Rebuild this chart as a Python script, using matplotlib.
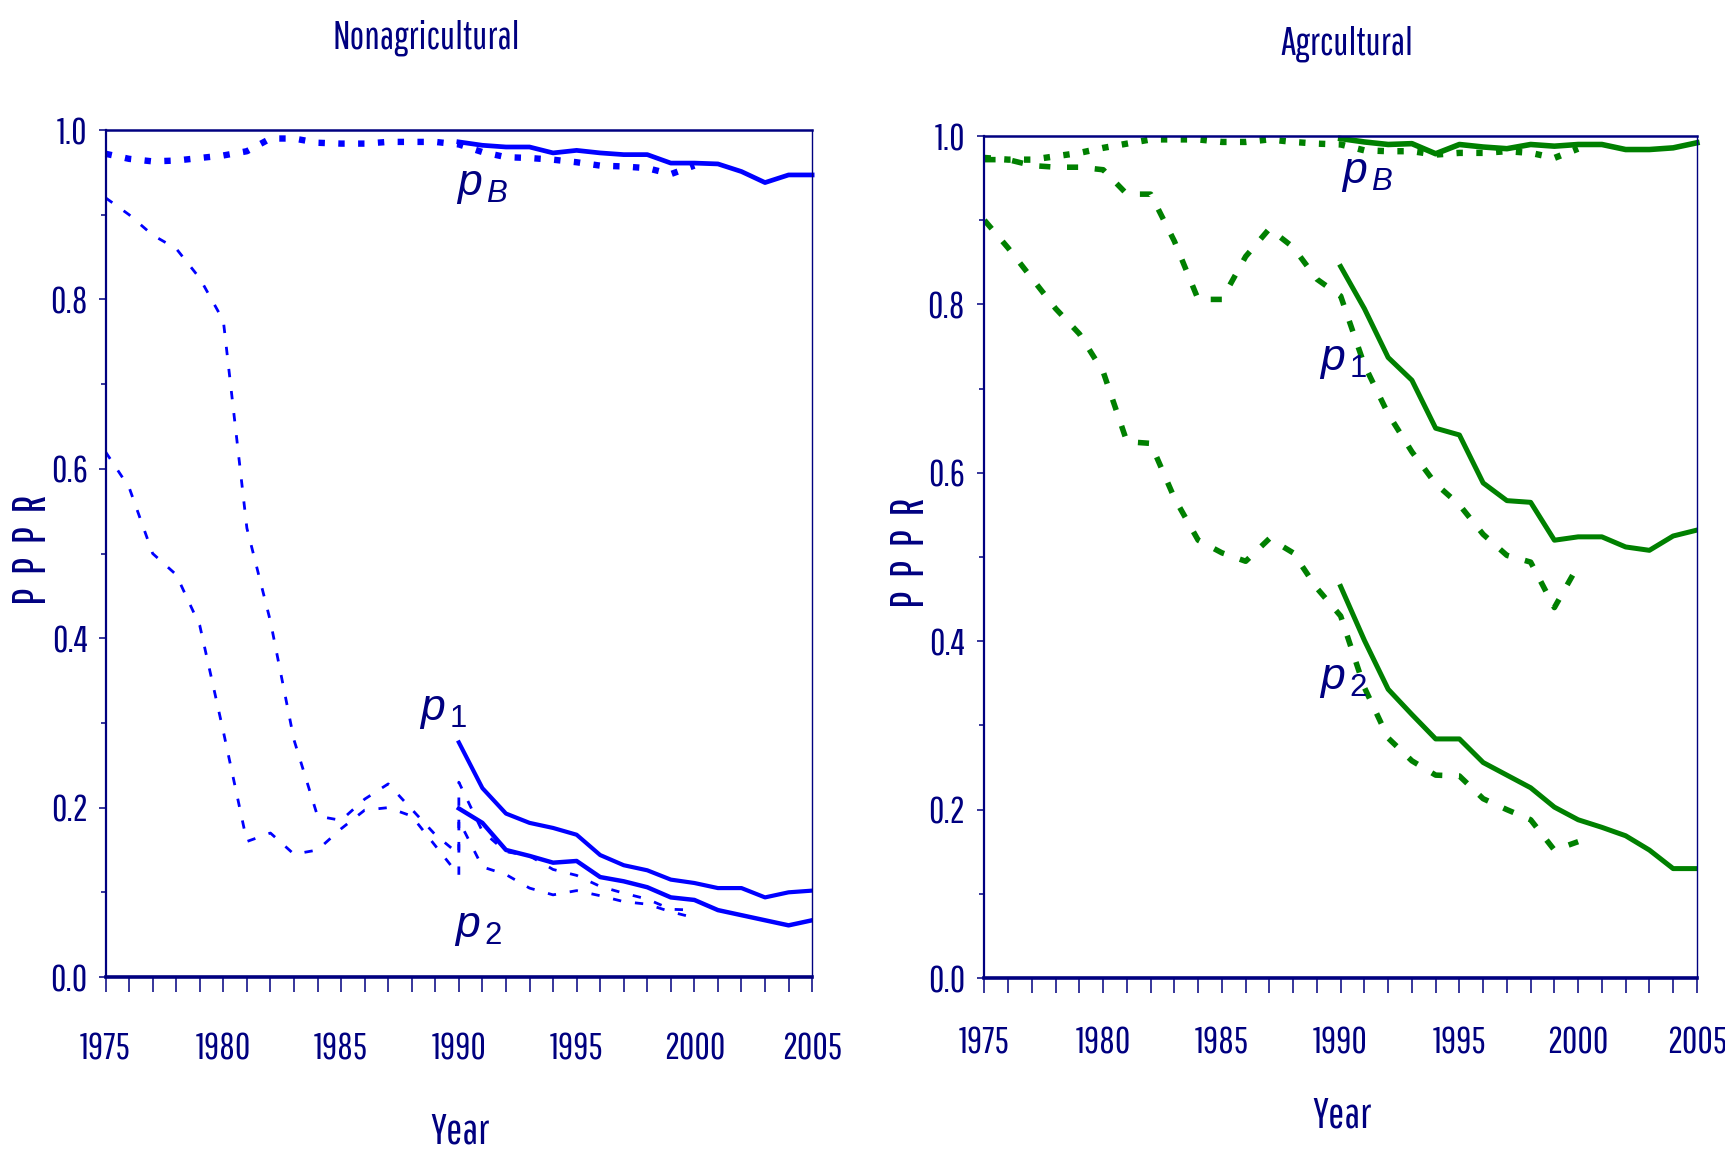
import matplotlib
matplotlib.use('Agg')
import matplotlib.pyplot as plt
from matplotlib.ticker import MultipleLocator, FormatStrFormatter
import numpy as np

# 窄体字：按顺序取第一个已安装的
plt.rcParams['font.family'] = ['Pathway Gothic One', 'Sofia Sans Extra Condensed',
                               'Roboto Condensed', 'Liberation Sans', 'DejaVu Sans']
plt.rcParams['mathtext.fontset'] = 'custom'
plt.rcParams['mathtext.it'] = 'Liberation Sans:italic'
plt.rcParams['mathtext.rm'] = 'Liberation Sans'

NAVY = '#000080'
BLUE = '#0000FF'
GREEN = '#008000'

# === 数据===
years_dot = np.arange(1975, 2001)
years_sol = np.arange(1990, 2006)
years_early = np.arange(1975, 1991)
years_late = np.arange(1990, 2001)

# Nonagricultural
nonag_pB_dot = [0.972, 0.966, 0.963, 0.964, 0.967, 0.970, 0.975, 0.990, 0.990, 0.985,
                0.984, 0.984, 0.986, 0.986, 0.986, 0.983, 0.974, 0.968, 0.967, 0.965,
                0.962, 0.958, 0.957, 0.955, 0.948, 0.958]
nonag_pB_sol = [0.986, 0.982, 0.980, 0.980, 0.973, 0.976, 0.973, 0.971, 0.971, 0.961,
                0.961, 0.960, 0.951, 0.938, 0.947, 0.947]
nonag_p1_sol = [0.277, 0.223, 0.193, 0.182, 0.176, 0.168, 0.144, 0.132, 0.126, 0.115,
                0.111, 0.105, 0.105, 0.094, 0.100, 0.102]
nonag_p2_sol = [0.199, 0.182, 0.150, 0.143, 0.135, 0.137, 0.118, 0.113, 0.106, 0.094,
                0.091, 0.079, 0.073, 0.067, 0.061, 0.067]
nonag_p1_early = [0.920, 0.900, 0.876, 0.860, 0.825, 0.775, 0.530, 0.420, 0.280, 0.190,
                  0.185, 0.210, 0.228, 0.198, 0.168, 0.145]
nonag_p1_late = [0.230, 0.172, 0.148, 0.143, 0.127, 0.120, 0.107, 0.099, 0.092, 0.080, 0.079]
nonag_p2_early = [0.620, 0.578, 0.500, 0.475, 0.415, 0.290, 0.160, 0.170, 0.145, 0.150,
                  0.175, 0.197, 0.200, 0.190, 0.155, 0.120]
nonag_p2_late = [0.185, 0.130, 0.121, 0.105, 0.097, 0.102, 0.096, 0.089, 0.086, 0.077, 0.070]

# Agrcultural
ag_pB_dot = [0.974, 0.972, 0.972, 0.976, 0.980, 0.986, 0.991, 0.996, 0.996, 0.996,
             0.993, 0.993, 0.996, 0.993, 0.991, 0.990, 0.983, 0.982, 0.982, 0.978,
             0.980, 0.980, 0.982, 0.980, 0.974, 0.985]
ag_pB_sol = [0.997, 0.993, 0.990, 0.991, 0.979, 0.990, 0.987, 0.985, 0.990, 0.988,
             0.990, 0.990, 0.984, 0.984, 0.986, 0.992]
ag_p1_sol = [0.845, 0.795, 0.737, 0.710, 0.653, 0.645, 0.588, 0.567, 0.565, 0.520,
             0.524, 0.524, 0.512, 0.508, 0.525, 0.532]
ag_p2_sol = [0.465, 0.401, 0.343, 0.313, 0.284, 0.284, 0.256, 0.241, 0.226, 0.203,
             0.188, 0.179, 0.169, 0.152, 0.130, 0.130]
ag_p1_dash = [0.972, 0.972, 0.965, 0.963, 0.963, 0.960, 0.931, 0.931, 0.875, 0.806,
              0.806, 0.857, 0.890, 0.868, 0.830, 0.810, 0.728, 0.670, 0.625, 0.587,
              0.562, 0.527, 0.502, 0.494, 0.440, 0.490]
ag_p2_dash = [0.900, 0.867, 0.831, 0.795, 0.765, 0.720, 0.637, 0.635, 0.570, 0.520,
              0.505, 0.495, 0.522, 0.505, 0.463, 0.430, 0.345, 0.285, 0.258, 0.241,
              0.240, 0.213, 0.200, 0.188, 0.152, 0.162]

TICK_FS = 27


def style_axes(ax, xpad, ypad):
    ax.set_xlim(1975, 2005)
    ax.set_ylim(0, 1)
    ax.xaxis.set_major_locator(MultipleLocator(5))
    ax.xaxis.set_minor_locator(MultipleLocator(1))
    ax.yaxis.set_major_locator(MultipleLocator(0.2))
    ax.yaxis.set_minor_locator(MultipleLocator(0.1))
    ax.yaxis.set_major_formatter(FormatStrFormatter('%.1f'))
    ax.tick_params(axis='x', which='both', direction='out', length=11, width=1.1,
                   color=NAVY, labelcolor=NAVY, labelsize=TICK_FS, pad=xpad)
    ax.tick_params(axis='y', which='major', direction='out', length=5, width=1.1,
                   color=NAVY, labelcolor=NAVY, labelsize=TICK_FS, pad=ypad)
    ax.tick_params(axis='y', which='minor', direction='out', length=3.5, width=1.1,
                   color=NAVY)
    for side, lw in [('bottom', 2.6), ('left', 1.6), ('top', 1.8), ('right', 1.0)]:
        ax.spines[side].set_color(NAVY)
        ax.spines[side].set_linewidth(lw)


fig = plt.figure(figsize=(17.25, 11.55), dpi=100)
ax1 = fig.add_axes([0.0612, 0.1541, 0.4096, 0.7333])
ax2 = fig.add_axes([0.5707, 0.1532, 0.4130, 0.7290])

# --- 左：Nonagricultural ---
ax1.plot(years_dot, nonag_pB_dot, color=BLUE, lw=4.6, dashes=(1.0, 2.1), clip_on=False)
ax1.plot(years_sol, nonag_pB_sol, color=BLUE, lw=3.4, clip_on=False)
ax1.plot(np.r_[years_early, years_late], nonag_p1_early + nonag_p1_late,
         color=BLUE, lw=2.0, dashes=(3.0, 5.0))
ax1.plot(np.r_[years_early, years_late], nonag_p2_early + nonag_p2_late,
         color=BLUE, lw=2.0, dashes=(3.0, 5.0))
ax1.plot(years_sol, nonag_p1_sol, color=BLUE, lw=3.0)
ax1.plot(years_sol, nonag_p2_sol, color=BLUE, lw=3.2)
style_axes(ax1, xpad=28, ypad=8)

# --- 右：Agrcultural ---
ax2.plot(years_dot, ag_pB_dot, color=GREEN, lw=4.6, dashes=(1.0, 2.1), clip_on=False)
ax2.plot(years_sol, ag_pB_sol, color=GREEN, lw=4.0, clip_on=False)
ax2.plot(years_dot, ag_p1_dash, color=GREEN, lw=4.0, dashes=(2.0, 3.0))
ax2.plot(years_dot, ag_p2_dash, color=GREEN, lw=4.0, dashes=(2.0, 3.0))
ax2.plot(years_sol, ag_p1_sol, color=GREEN, lw=3.6)
ax2.plot(years_sol, ag_p2_sol, color=GREEN, lw=3.6)
style_axes(ax2, xpad=23, ypad=9)

# 参数标注
lab = dict(color=NAVY, fontsize=32, ha='left', va='center')
ax1.text(1989.9, 0.935, r'$p_{\,B}$', **lab)
ax1.text(1988.3, 0.315, r'$p_{\,1}$', **lab)
ax1.text(1989.8, 0.059, r'$p_{\,2}$', **lab)
ax2.text(1990.0, 0.956, r'$p_{\,B}$', **lab)
ax2.text(1989.1, 0.734, r'$p_{\,1}$', **lab)
ax2.text(1989.1, 0.355, r'$p_{\,2}$', **lab)

# 标题与轴标签
fig.text(0.247, 0.967, 'Nonagricultural', color=NAVY, fontsize=28, ha='center', va='center')
fig.text(0.781, 0.962, 'Agrcultural', color=NAVY, fontsize=28, ha='center', va='center')
fig.text(0.2667, 0.020, 'Year', color=NAVY, fontsize=31, ha='center', va='center')
fig.text(0.778, 0.034, 'Year', color=NAVY, fontsize=31, ha='center', va='center')
fig.text(0.019, 0.524, 'P  P  P  R', color=NAVY, fontsize=34, rotation=90,
         ha='center', va='center')
fig.text(0.528, 0.521, 'P  P  P  R', color=NAVY, fontsize=34, rotation=90,
         ha='center', va='center')

fig.savefig('out.png', dpi=100)
